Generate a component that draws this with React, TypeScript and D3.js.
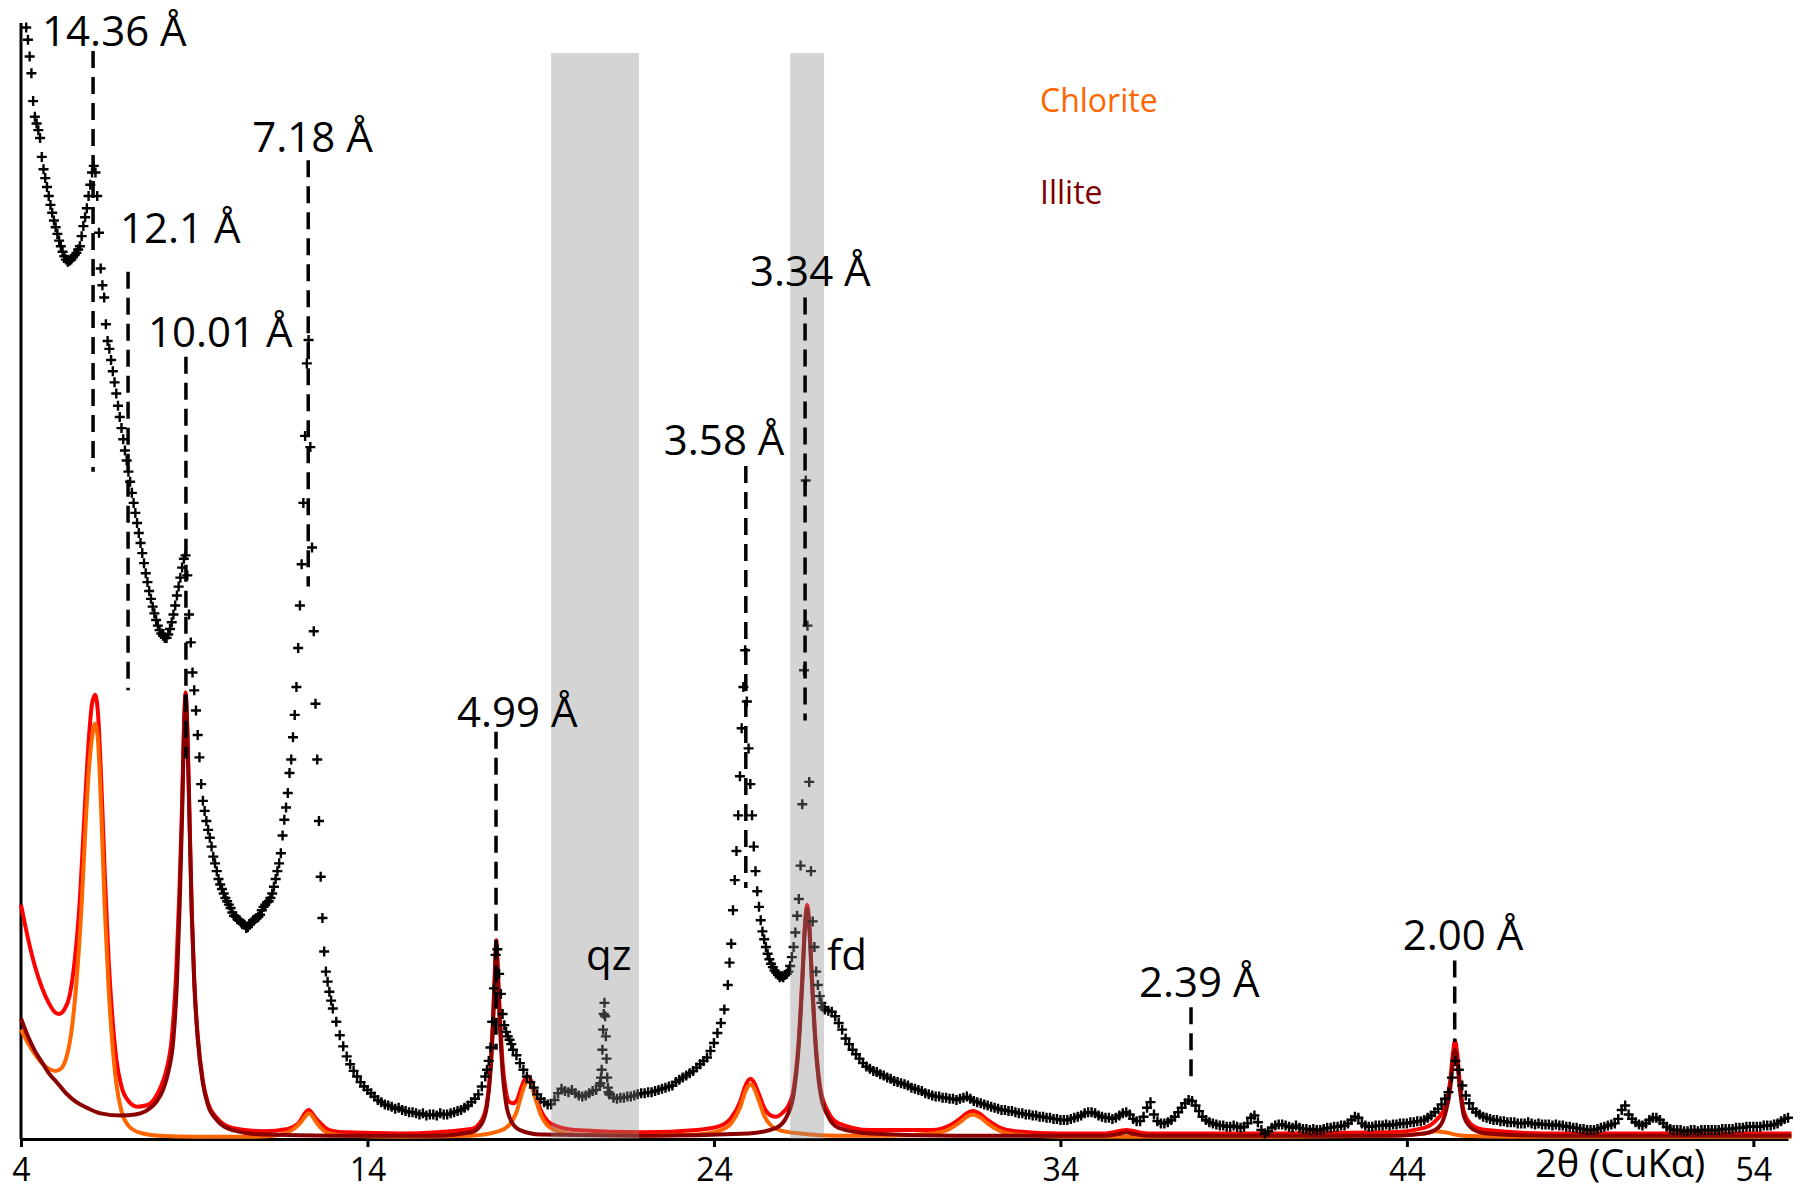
import React, { useEffect, useRef } from "react";
import * as d3 from "d3";

const W = 1804,
  H = 1191;

// measured scan, read off the picture in stretches of equal 2θ step
// (counts on a 0-1000 scale, 1000 = top of the y axis)
const scanFrom = [4.15, 13.1, 17.45, 18.3, 20.72, 21.0, 24.45, 27.3];
const scanStep = [0.05, 0.1, 0.05, 0.1, 0.02, 0.1, 0.05, 0.1];

const scanLowAngle = [
  996, 985, 970, 955, 930, 916, 910, 904, 897, 880, 869, 861, 853, 845, 837, 830, 823,
  817, 811, 805, 800, 795, 791, 788, 786, 787, 788, 790, 792, 794, 797, 800, 809, 818, 826, 834, 845,
  855, 866, 872, 866, 845, 812, 780, 765, 754, 730, 715, 708, 698, 688, 678, 668, 657, 647, 637, 627,
  617, 608, 598, 589, 579, 570, 561, 552, 543, 534, 525, 516, 507, 499, 491, 484, 477, 471, 465, 460,
  456, 453, 451, 449, 449, 452, 457, 463, 470, 478, 487, 495, 503, 512, 520, 523, 505, 470, 445, 418,
  402, 384, 362, 342, 318, 303, 294, 285, 277, 270, 262, 253, 247, 240, 233, 228, 224, 220, 216, 213,
  210, 207, 203, 200, 199, 197, 196, 194, 193, 192, 189, 190, 192, 194, 196, 197, 198, 199, 201, 205,
  208, 210, 212, 213, 216, 220, 226, 233, 240, 247, 256, 272, 286, 297, 310, 328, 340, 360, 380, 405,
  440, 478, 515, 570, 630, 695, 716, 620, 530, 455, 390, 340, 285, 235, 198, 168, 150, 141, 132, 124,
  117,
];
const scanTail1 = [
  105, 93, 83, 74, 67, 61, 56, 51, 47,
  44, 41, 38, 35, 33, 31, 30, 29, 27, 28,
  26, 25, 24, 24, 23, 22, 23, 21, 22, 22,
  21, 23, 22, 22, 23, 24, 25, 26, 28, 30,
  33, 36, 40, 47, 56,
];
const scanPeak499 = [62, 70, 82, 105, 135, 165, 170, 148, 130, 112, 102, 96, 92, 89, 85, 80];
const scanMid = [
  75, 68, 62, 56, 51, 46, 40, 36, 33, 31, 31, 35, 41, 45, 43, 42, 44, 41, 39, 38, 39, 41, 43, 44, 48,
];
const scanQuartz = [50, 55, 62, 80, 98, 112, 122, 110, 92, 72, 55, 46, 42, 40];
const scanRise = [
  40, 37, 36, 37, 37, 38, 38, 39, 40, 41,
  41, 42, 42, 43, 44, 45, 46, 47, 48, 51,
  53, 55, 57, 59, 61, 64, 67, 70, 73, 79,
  86, 95, 104, 116, 138,
];
const scanPeaks3 = [
  158, 175, 205, 232, 258, 290, 325, 368, 405, 438, 392,
  350, 318, 290, 262, 240, 222, 208, 196, 186, 179, 172, 166, 161, 157, 154, 151, 149, 147, 145, 146,
  145, 147, 148, 150, 155, 163, 172, 185, 200, 215, 245, 300, 420, 590, 460, 320, 240, 195, 172, 150,
  138, 128, 122, 118, 116,
];
const scanHigh = [
  115, 114, 110, 104, 98, 90, 85,
  80, 76, 72, 68, 65, 63, 61, 60, 58, 57,
  55, 54, 52, 51, 50, 49, 48, 46, 45, 44,
  43, 41, 40, 39, 38, 38, 37, 37, 36, 36,
  35, 36, 37, 38, 36, 34, 33, 32, 31, 30,
  29, 28, 27, 26, 26, 25, 25, 24, 23, 23,
  22, 22, 21, 21, 20, 20, 19, 19, 18, 18,
  17, 17, 17, 18, 19, 20, 21, 23, 24, 24,
  23, 21, 20, 19, 19, 18, 19, 21, 23, 24,
  22, 18, 16, 16, 20, 28, 33, 22, 16, 14,
  14, 15, 17, 20, 24, 28, 32, 35, 34, 30,
  25, 20, 17, 15, 14, 13, 12, 12, 11, 11,
  12, 11, 10, 11, 14, 19, 21, 15, 8, 5,
  7, 10, 12, 13, 13, 12, 11, 10, 12, 10,
  9, 9, 8, 9, 8, 8, 9, 10, 10, 11,
  11, 12, 12, 14, 17, 20, 19, 14, 12, 11,
  11, 12, 12, 12, 13, 12, 13, 13, 14, 14,
  14, 15, 15, 16, 16, 17, 19, 21, 24, 27,
  31, 36, 42, 55, 70, 62, 48, 39, 32, 27,
  24, 22, 20, 19, 18, 17, 17, 16, 16, 15,
  15, 15, 14, 14, 14, 15, 14, 13, 14, 13,
  13, 13, 12, 13, 12, 12, 11, 11, 10, 10,
  9, 9, 8, 8, 8, 9, 10, 11, 12, 13,
  14, 18, 26, 30, 22, 18, 15, 13, 12, 14,
  17, 19, 19, 17, 14, 11, 9, 8, 8, 8,
  7, 7, 8, 8, 7, 8, 8, 8, 8, 8,
  8, 9, 9, 9, 9, 10, 10, 10, 11, 11,
  11, 11, 11, 12, 12, 12, 13, 14, 16, 18,
  19,
];
const scanCounts = [scanLowAngle, scanTail1, scanPeak499, scanMid, scanQuartz, scanRise, scanPeaks3, scanHigh];

// calculated patterns [2θ, counts]
const chloriteCurve: [number, number][] = [
  [4.0, 98], [4.2, 86], [4.4, 76], [4.6, 68], [4.8, 63], [5.0, 61], [5.15, 63], [5.3, 72], [5.45, 95],
  [5.6, 140], [5.75, 210], [5.87, 285], [5.97, 335], [6.06, 362], [6.14, 372], [6.22, 358], [6.32, 290],
  [6.42, 205], [6.52, 140], [6.62, 92], [6.75, 50], [6.9, 25], [7.1, 12], [7.4, 6], [8.0, 3], [9.0, 2],
  [10.5, 2], [11.3, 3], [11.7, 6], [11.95, 11], [12.1, 16], [12.2, 20], [12.3, 23], [12.4, 21], [12.5, 16],
  [12.65, 10], [12.9, 5], [13.4, 3], [15, 2], [17, 3], [17.8, 7], [18.1, 13], [18.3, 24], [18.45, 40],
  [18.55, 49], [18.64, 52], [18.73, 48], [18.85, 36], [19.0, 22], [19.2, 12], [19.5, 7], [20, 4], [22, 3],
  [23.5, 4], [24.2, 8], [24.5, 14], [24.75, 28], [24.9, 42], [25.0, 48], [25.07, 49], [25.15, 46],
  [25.3, 34], [25.45, 21], [25.65, 12], [26.0, 7], [26.5, 5], [27.5, 3], [29, 3], [30.3, 5], [30.8, 9],
  [31.1, 15], [31.3, 20], [31.48, 22], [31.65, 20], [31.9, 14], [32.2, 8], [32.7, 4], [34, 2], [36, 2],
  [40, 2], [43.5, 3], [44.5, 5], [44.85, 7], [45.1, 6], [45.6, 3], [47, 2], [55.1, 2],
];
const illiteCurve: [number, number][] = [
  [4.0, 108], [4.2, 92], [4.4, 79], [4.6, 69], [4.8, 59], [5.0, 52], [5.3, 41], [5.6, 33], [5.9, 28],
  [6.3, 23], [6.9, 21], [7.3, 22], [7.6, 25], [7.9, 33], [8.1, 44], [8.25, 60], [8.4, 90], [8.5, 140],
  [8.58, 210], [8.65, 290], [8.7, 360], [8.75, 398], [8.8, 365], [8.86, 290], [8.93, 200], [9.0, 140],
  [9.1, 90], [9.25, 50], [9.4, 30], [9.65, 17], [10.1, 8], [11, 4], [13, 3], [16, 3], [17.0, 6],
  [17.3, 14], [17.45, 30], [17.55, 60], [17.62, 100], [17.67, 140], [17.72, 172], [17.77, 140],
  [17.83, 98], [17.9, 60], [18.0, 32], [18.15, 16], [18.4, 8], [19, 4], [22, 3], [25, 5], [25.8, 10],
  [26.1, 20], [26.3, 40], [26.45, 85], [26.55, 140], [26.63, 190], [26.69, 206], [26.75, 190],
  [26.83, 140], [26.93, 85], [27.08, 40], [27.3, 20], [27.6, 10], [28.5, 5], [31, 3], [35.3, 3],
  [35.75, 5], [35.9, 6], [36.05, 5], [36.5, 3], [43.5, 3], [44.5, 5], [44.9, 10], [45.1, 22],
  [45.25, 45], [45.33, 70], [45.39, 80], [45.45, 70], [45.53, 45], [45.65, 20], [45.9, 9], [46.3, 5],
  [48, 3], [55.1, 3],
];
const sumCurve: [number, number][] = [
  [4.0, 210], [4.2, 180], [4.4, 155], [4.6, 136], [4.8, 122], [5.0, 113], [5.1, 112], [5.25, 116],
  [5.4, 128], [5.55, 160], [5.7, 215], [5.83, 290], [5.95, 355], [6.05, 390], [6.14, 398], [6.23, 378],
  [6.33, 310], [6.43, 228], [6.53, 160], [6.63, 112], [6.75, 72], [6.9, 47], [7.1, 34], [7.35, 29],
  [7.6, 30], [7.85, 36], [8.05, 48], [8.2, 62], [8.35, 90], [8.48, 150], [8.57, 220], [8.65, 300],
  [8.7, 365], [8.75, 400], [8.8, 368], [8.86, 294], [8.93, 203], [9.0, 143], [9.1, 93], [9.25, 52],
  [9.4, 32], [9.65, 19], [10.1, 10], [11, 7], [11.7, 9], [12.0, 14], [12.3, 26], [12.5, 19], [12.9, 8],
  [13.4, 6], [15, 5], [17.0, 9], [17.3, 17], [17.45, 33], [17.55, 64], [17.62, 105], [17.67, 145],
  [17.72, 178], [17.77, 147], [17.83, 106], [17.9, 68], [18.0, 42], [18.1, 33], [18.2, 32], [18.3, 34],
  [18.45, 47], [18.55, 54], [18.64, 56], [18.73, 52], [18.85, 40], [19.0, 26], [19.2, 16], [19.5, 11],
  [20, 8], [22, 6], [23.5, 8], [24.2, 12], [24.5, 19], [24.75, 33], [24.9, 47], [25.0, 53], [25.07, 54],
  [25.15, 51], [25.3, 40], [25.45, 28], [25.65, 21], [25.8, 20], [26.0, 24], [26.15, 30], [26.3, 45],
  [26.45, 90], [26.55, 145], [26.63, 194], [26.69, 210], [26.75, 194], [26.83, 144], [26.93, 89],
  [27.08, 44], [27.3, 24], [27.6, 14], [28.5, 8], [30.3, 8], [30.8, 12], [31.1, 18], [31.3, 23],
  [31.48, 25], [31.65, 23], [31.9, 17], [32.2, 11], [32.7, 7], [34, 5], [35.3, 5], [35.9, 8], [36.5, 5],
  [40, 5], [43.5, 6], [44.5, 10], [44.85, 17], [45.1, 29], [45.25, 52], [45.33, 77], [45.39, 88],
  [45.45, 77], [45.53, 50], [45.65, 24], [45.9, 12], [46.3, 8], [48, 5], [55.1, 5],
];

// d-spacing markers: 2θ of the line, its top and bottom and the label height (counts)
const peakLabels = ["14.36 Å", "12.1 Å", "10.01 Å", "7.18 Å", "4.99 Å", "3.58 Å", "3.34 Å", "2.39 Å", "2.00 Å"];
const peakPos = [6.08, 7.09, 8.76, 12.29, 17.71, 24.92, 26.63, 37.77, 45.38];
const peakTop = [975, 777, 701, 877, 365, 603, 754, 118, 160];
const peakBottom = [598, 402, 341, 495, 80, 225, 375, 56, 87];
const peakLabelAt = [979, 803, 710, 884, 369, 613, 764, 127, 169];
const labelShift = [-51, -8, -38, -56, -39, -82, -55, -52, -52];

const phaseLabels = ["qz", "fd"];
const phasePos = [20.31, 27.27];
const phaseAt = [151, 151];

// excluded (grey) ranges
const bandFrom = [19.3, 26.2];
const bandTo = [21.84, 27.18];
const bandTop = 973;

const xTicks = [4, 14, 24, 34, 44, 54];
const legendNames = ["Chlorite", "Illite"];
const legendColors = ["#FF6600", "#7F0000"];

export default function App() {
  const ref = useRef<SVGSVGElement>(null);

  useEffect(() => {
    const svg = d3.select(ref.current);
    svg.selectAll("*").remove();
    const font = "'Open Sans', sans-serif";

    const x = d3.scaleLinear().domain([4, 55]).range([21, 1788]);
    const y = d3.scaleLinear().domain([0, 1000]).range([1139, 23]);

    // axes first, the curves sit over the baseline
    const gx = svg
      .append("g")
      .attr("transform", `translate(0,${y(0)})`)
      .call(d3.axisBottom(x).tickValues(xTicks).tickSizeInner(8).tickSizeOuter(0).tickPadding(11).tickFormat(d3.format("d")));
    gx.select(".domain").attr("stroke", "#000").attr("stroke-width", 3);
    gx.selectAll(".tick line").attr("stroke", "#000").attr("stroke-width", 3);
    gx.selectAll(".tick text").attr("font-family", font).attr("font-size", 32).attr("fill", "#000");

    svg.append("line")
      .attr("x1", x(4)).attr("x2", x(4))
      .attr("y1", y(1000)).attr("y2", y(0))
      .attr("stroke", "#000").attr("stroke-width", 3);

    // calculated curves
    const line = d3.line<[number, number]>()
      .x(d => x(d[0]))
      .y(d => y(d[1]))
      .curve(d3.curveMonotoneX);
    const curves: [[number, number][], string][] = [
      [sumCurve, "#FF0000"],
      [chloriteCurve, "#FF6600"],
      [illiteCurve, "#8B0000"],
    ];
    curves.forEach(([pts, col]) => {
      svg.append("path")
        .attr("d", line(pts))
        .attr("fill", "none")
        .attr("stroke", col)
        .attr("stroke-width", 4)
        .attr("stroke-linejoin", "round");
    });

    // measured scan as + marks
    const scan: [number, number][] = [];
    scanCounts.forEach((counts, k) => {
      counts.forEach((c, i) => scan.push([scanFrom[k] + i * scanStep[k], c]));
    });
    svg.append("g")
      .selectAll("path")
      .data(scan)
      .join("path")
      .attr("transform", d => `translate(${x(d[0])},${y(d[1])})`)
      .attr("d", "M-5,0H5M0,-5V5")
      .attr("stroke", "#000")
      .attr("stroke-width", 2.4);

    // grey bands, semi transparent over the data
    svg.append("g")
      .selectAll("rect")
      .data(bandFrom)
      .join("rect")
      .attr("x", d => x(d))
      .attr("width", (d, i) => x(bandTo[i]) - x(d))
      .attr("y", y(bandTop))
      .attr("height", y(0) - y(bandTop))
      .attr("fill", "#898989")
      .attr("opacity", 0.37);

    // dashed d-spacing lines and labels
    svg.append("g")
      .selectAll("line")
      .data(peakPos)
      .join("line")
      .attr("x1", d => x(d)).attr("x2", d => x(d))
      .attr("y1", (d, i) => y(peakTop[i]))
      .attr("y2", (d, i) => y(peakBottom[i]))
      .attr("stroke", "#000")
      .attr("stroke-width", 3.5)
      .attr("stroke-dasharray", "17 9");

    svg.append("g")
      .selectAll("text")
      .data(peakLabels)
      .join("text")
      .attr("x", (d, i) => x(peakPos[i]) + labelShift[i])
      .attr("y", (d, i) => y(peakLabelAt[i]))
      .attr("font-family", font)
      .attr("font-size", 42)
      .attr("fill", "#000")
      .text(d => d);

    svg.append("g")
      .selectAll("text")
      .data(phaseLabels)
      .join("text")
      .attr("x", (d, i) => x(phasePos[i]))
      .attr("y", (d, i) => y(phaseAt[i]))
      .attr("font-family", font)
      .attr("font-size", 42)
      .attr("fill", "#000")
      .text(d => d);

    // legend
    svg.append("g")
      .selectAll("text")
      .data(legendNames)
      .join("text")
      .attr("x", 1040)
      .attr("y", (d, i) => 112 + i * 92)
      .attr("font-family", font)
      .attr("font-size", 32)
      .attr("fill", (d, i) => legendColors[i])
      .text(d => d);

    // axis title
    svg.append("text")
      .attr("x", 1535)
      .attr("y", 1177)
      .attr("font-family", font)
      .attr("font-size", 38)
      .attr("fill", "#000")
      .text("2θ (CuKα)");
  }, []);

  return (
    <svg
      ref={ref}
      width={W}
      height={H}
      style={{ position: "absolute", left: 0, top: 0, background: "#fff" }}
    />
  );
}
